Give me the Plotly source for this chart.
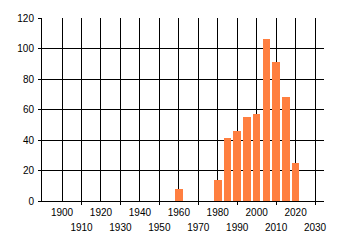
import plotly.graph_objects as go

years = [1960, 1980, 1985, 1990, 1995, 2000, 2005, 2010, 2015, 2020]
counts = [8, 14, 41, 46, 55, 57, 106, 91, 68, 25]

even_ticks = [1900, 1920, 1940, 1960, 1980, 2000, 2020]
odd_ticks = [1910, 1930, 1950, 1970, 1990, 2010, 2030]
all_ticks = list(range(1900, 2031, 10))
y_ticks = [0, 20, 40, 60, 80, 100, 120]

x_range = [1889.7, 2034.6]
font = dict(family="Liberation Sans, Arial", size=10, color="black")

fig = go.Figure()
fig.add_trace(go.Bar(x=years, y=counts, width=3.9, marker=dict(color="#FF7F40", line=dict(width=0)),
                     showlegend=False))
# invisible trace for the second (staggered) x-axis
fig.add_trace(go.Scatter(x=[1900], y=[0], xaxis="x2", mode="markers",
                         marker=dict(opacity=0), showlegend=False, hoverinfo="skip"))

fig.update_layout(
    width=340, height=245,
    margin=dict(l=42, r=16, t=15, b=44),
    paper_bgcolor="white", plot_bgcolor="white",
    font=font,
    bargap=0,
    xaxis=dict(range=x_range, tickvals=all_ticks,
               ticktext=[str(t) if t in even_ticks else "" for t in all_ticks],
               showgrid=True, gridcolor="black", gridwidth=1,
               showline=True, linecolor="black", linewidth=1,
               ticks="", zeroline=False, tickfont=font, ticklabelstandoff=2),
    xaxis2=dict(range=x_range, overlaying="x", side="bottom", anchor="y",
                tickvals=odd_ticks, ticktext=[str(t) for t in odd_ticks],
                showgrid=False, showline=False, ticks="outside", ticklen=3,
                tickcolor="black", tickfont=font, ticklabelstandoff=14, zeroline=False),
    yaxis=dict(range=[0, 120], tickvals=y_ticks, showgrid=True, gridcolor="black", gridwidth=1,
               showline=True, linecolor="black", linewidth=1, ticks="outside", ticklen=3,
               tickcolor="black", zeroline=False, tickfont=font, ticklabelstandoff=2),
)

fig.write_html("out.html")
